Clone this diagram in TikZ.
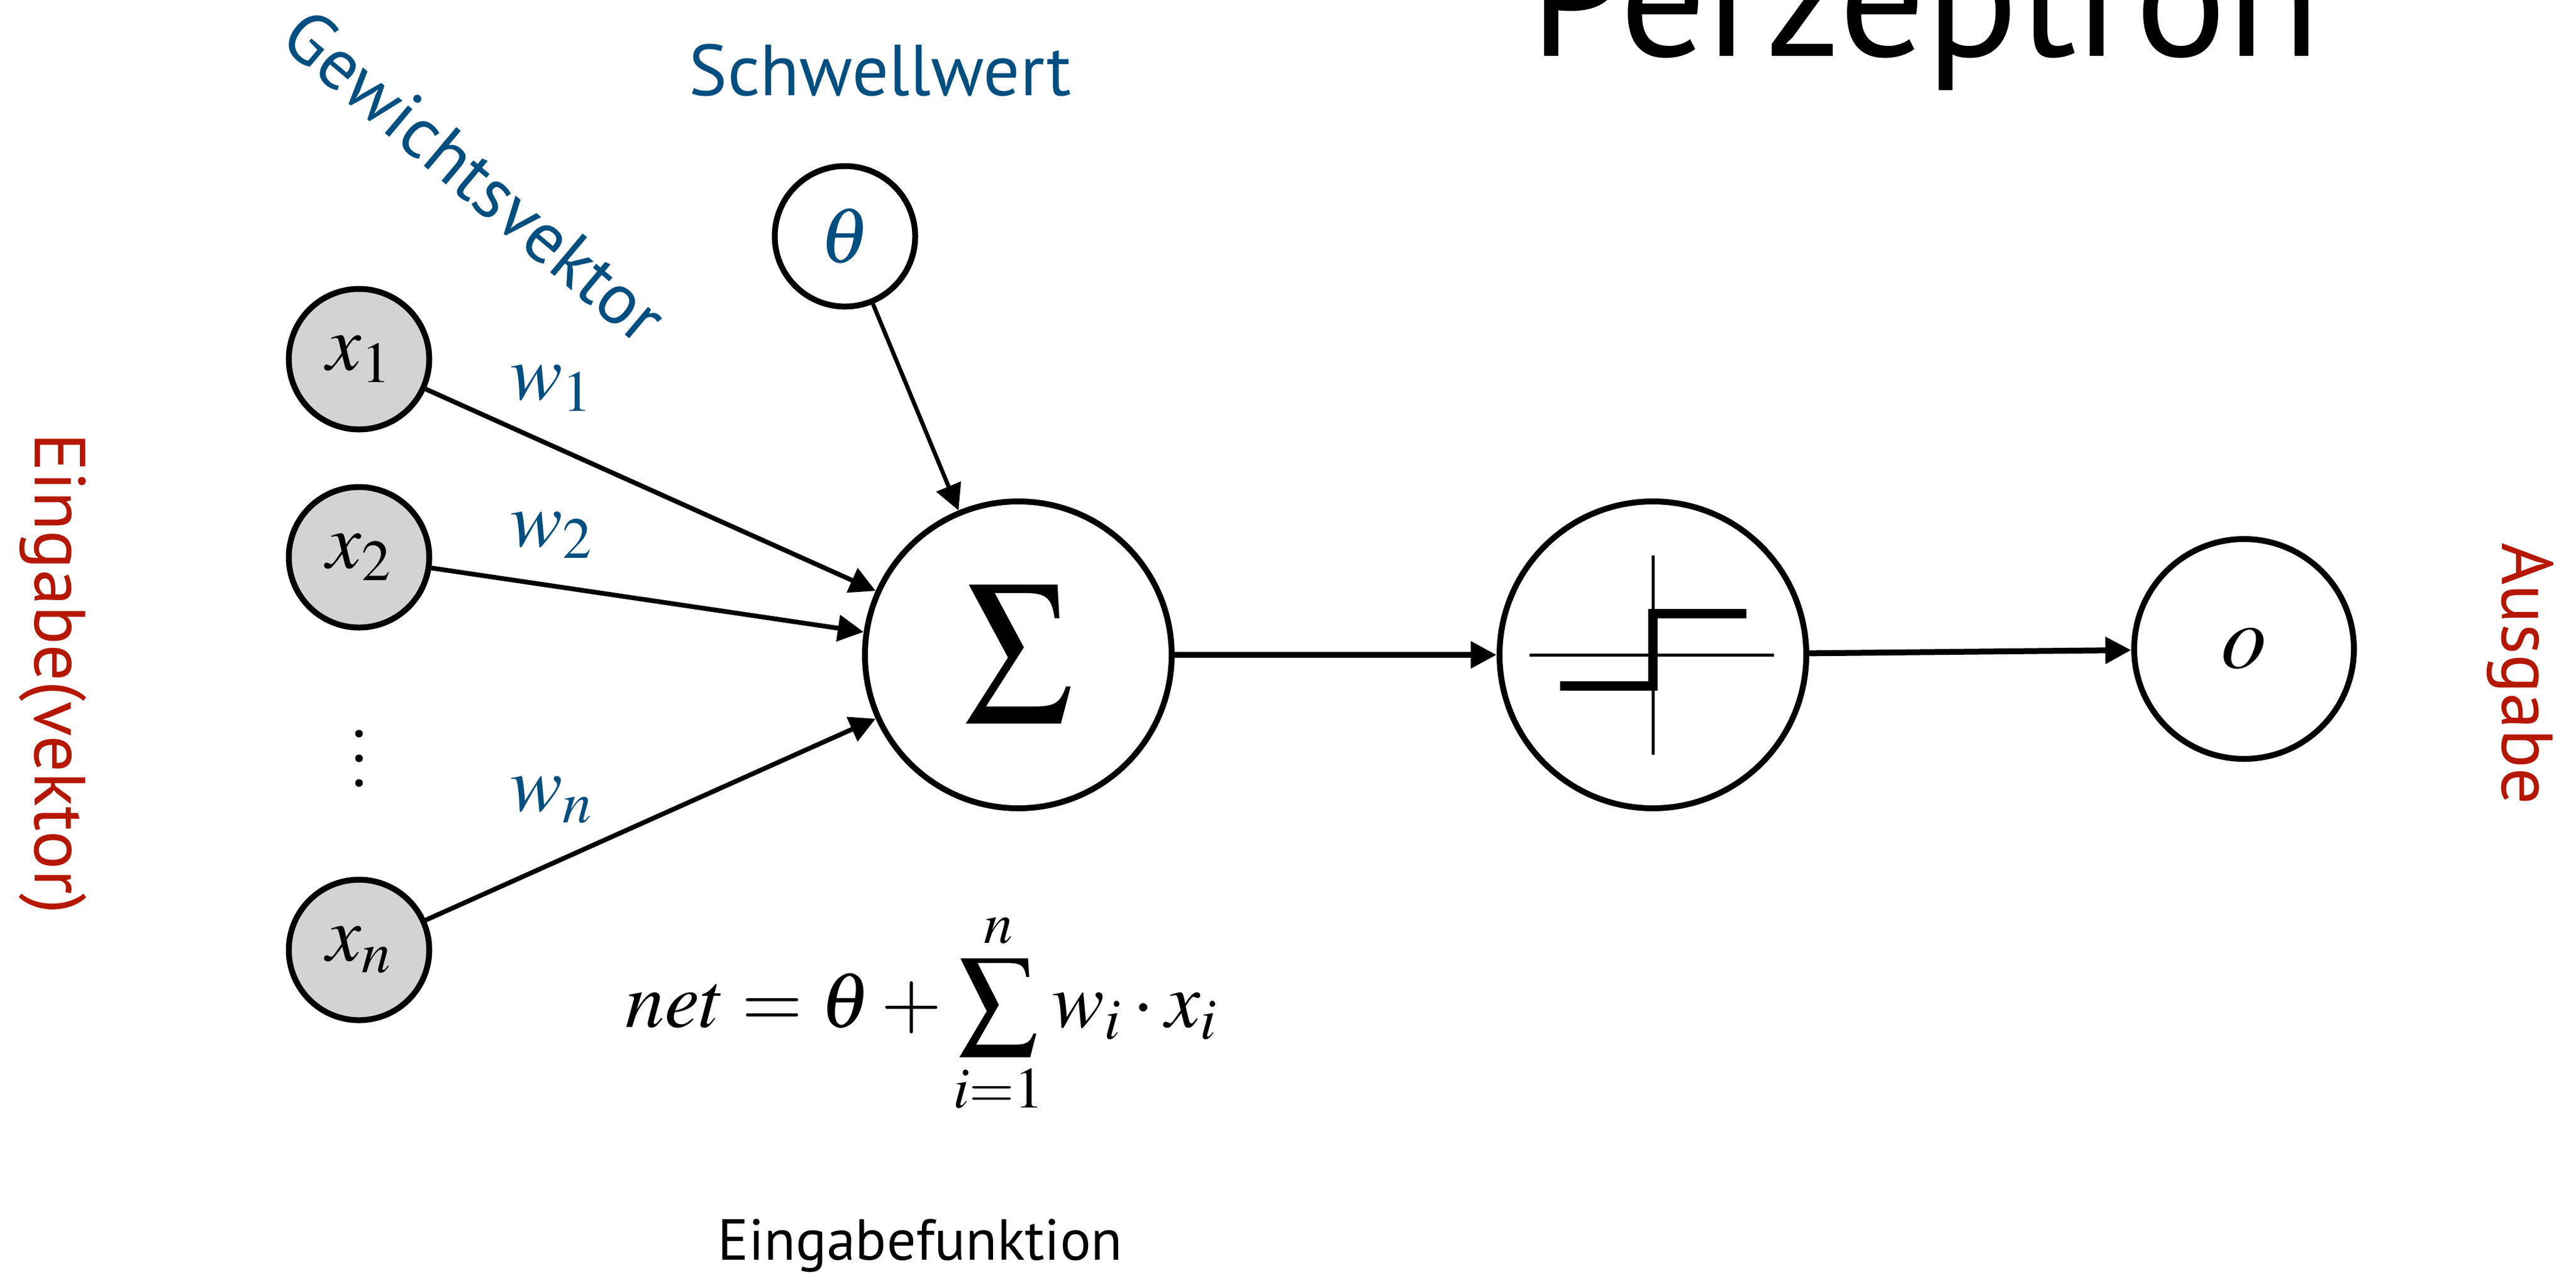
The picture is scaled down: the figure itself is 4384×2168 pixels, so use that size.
\documentclass[tikz,border=0pt]{standalone}
\usepackage{mathptmx}
\usepackage[no-math]{fontspec}
\usepackage{graphicx}
\newfontfamily\rotulo{PT Sans}
\usetikzlibrary{arrows.meta}
\definecolor{blau}{RGB}{0,79,128}
\definecolor{rot}{RGB}{181,23,0}
\definecolor{grau}{RGB}{211,211,211}

\begin{document}
\begin{tikzpicture}[x=0.1mm, y=-0.1mm, %Escala: uma unidade = um pixel da figura
	knoten/.style={circle, draw, line width=1mm, inner sep=0pt, minimum size=23.9mm, font=\fontsize{38}{44}\selectfont},
	eingang/.style={knoten, fill=grau},
	gross/.style={knoten, minimum size=52.2mm},
	pfeil/.style={-{Triangle[length=4.4mm, width=4.4mm]}, line width=0.8mm},
	gewicht/.style={anchor=base west, inner sep=0pt, text=blau, font=\fontsize{38}{44}\selectfont},
	beschriftung/.style={inner sep=0pt, font=\rotulo\fontsize{35}{42}\selectfont}]
		\useasboundingbox (0,0) rectangle (4384,2168); %Margens da figura
			%Nos de entrada
		\node[eingang] (x1) at (611,611) {$x_1$}; %Entrada x1
		\node[eingang] (x2) at (611,948) {$x_2$}; %Entrada x2
		\node[eingang] (xn) at (611,1616) {$x_n$}; %Entrada xn
		\foreach \k in {-1,0,1} \fill (611,1290+\k*42) circle (6.5); %Pontinhos entre x2 e xn
			%Limiar, soma, degrau e saida
		\node[knoten, text=blau] (theta) at (1438,402) {$\theta$}; %Limiar
		\node[gross, font=\fontsize{100}{100}\selectfont] (summe) at (1733,1114) {\scalebox{0.87}[1]{$\Sigma$}}; %Soma
		\node[gross] (stufe) at (2813,1114) {}; %Funcao degrau
		\node[knoten, minimum size=37.4mm, font=\fontsize{44}{50}\selectfont] (ausgabe) at (3819,1104) {$o$}; %Saida
			%Setas
		\draw[pfeil] (x1) -- (summe); %x1 para a soma
		\draw[pfeil] (x2) -- (summe); %x2 para a soma
		\draw[pfeil] (xn) -- (summe); %xn para a soma
		\draw[pfeil, line width=0.7mm] (theta) -- (summe); %Limiar para a soma
		\draw[pfeil, line width=1mm] (summe) -- (stufe); %Soma para o degrau
		\draw[pfeil, line width=1mm] (stufe) -- (ausgabe); %Degrau para a saida
			%Desenho do degrau
		\draw[line width=0.5mm] (stufe.center) ++(-210,0) -- ++(416,0); %Eixo horizontal
		\draw[line width=0.5mm] (stufe.center) ++(0,-169) -- ++(0,339); %Eixo vertical
		\draw[line width=1.6mm] (stufe.center) ++(-158,53) -- ++(158,0) -- ++(0,-123) -- ++(159,0); %Degrau
			%Pesos
		\node[gewicht] (w1) at (868,679) {$w_1$}; %Peso w1
		\node[gewicht] (w2) at (868,929) {$w_2$}; %Peso w2
		\node[gewicht] (wn) at (868,1379) {$w_n$}; %Peso wn
			%Textos
		\node[beschriftung, anchor=base, font=\rotulo\fontsize{83}{92}\selectfont] (titel) at (3276,95) {Perzeptron}; %Titulo
		\node[beschriftung, anchor=base, text=blau] (schwelle) at (1498,162) {Schwellwert}; %Rotulo do limiar
		\node[beschriftung, rotate=-40, text=blau] (vektor) at (808,299) {Gewichtsvektor}; %Rotulo dos pesos
		\node[beschriftung, anchor=base, rotate=-90, text=rot] (eingabe) at (60,1146) {Eingabe(vektor)}; %Rotulo das entradas
		\node[beschriftung, anchor=base, rotate=-90, text=rot] (ausgang) at (4258,1146) {Ausgabe}; %Rotulo da saida
		\node[anchor=base, inner sep=0pt, font=\fontsize{38}{44}\selectfont] (netz) at (1568,1747) {$\displaystyle net=\theta+\sum_{i=1}^{n}w_i\cdot x_i$}; %Formula da entrada
		\node[beschriftung, anchor=base, font=\rotulo\fontsize{28}{34}\selectfont] (funktion) at (1566,2143) {Eingabefunktion}; %Rotulo da formula
\end{tikzpicture}
\end{document}
